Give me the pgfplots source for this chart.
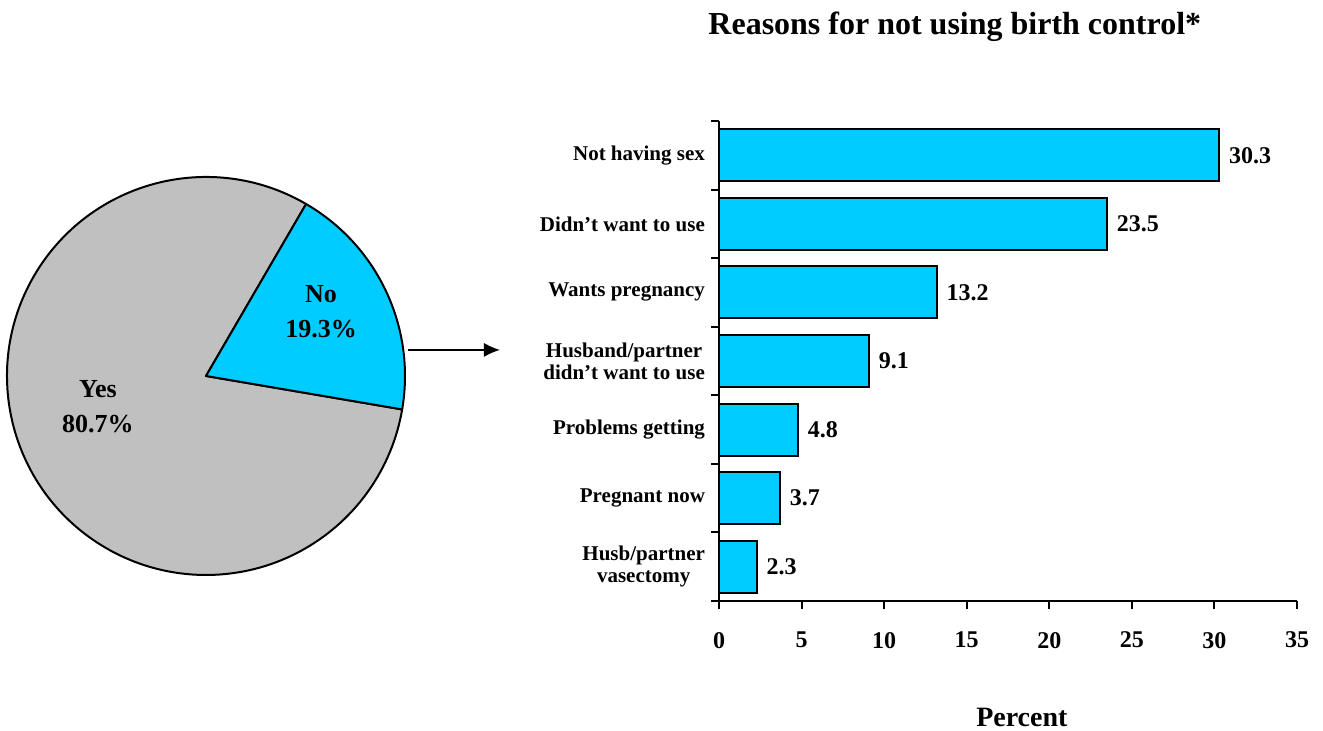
\documentclass[border=0pt]{standalone}
\usepackage{fontspec}
\setmainfont{Liberation Serif}
\usepackage{pgfplots}
\pgfplotsset{compat=1.18}
\usetikzlibrary{arrows.meta}
\definecolor{barcyan}{HTML}{00CCFF}
\definecolor{piegray}{HTML}{C0C0C0}
\begin{document}
\begin{tikzpicture}
\path[use as bounding box] (0,0) rectangle (661.5pt,365.5pt);
% ---------- Pie ----------
\begin{axis}[
  at={(103pt,177.5pt)}, anchor=center,
  scale only axis, width=199pt, height=199pt,
  xmin=-1, xmax=1, ymin=-1, ymax=1,
  hide axis, clip=false]
  \pgfmathsetmacro{\pno}{19.3}
  \pgfmathsetmacro{\pyes}{80.7}
  \pgfmathsetmacro{\sA}{59.8}
  \pgfmathsetmacro{\eNo}{\sA-\pno*3.6}
  \pgfmathsetmacro{\eYes}{\sA+\pyes*3.6}
  \filldraw[fill=piegray, draw=black, line width=1pt, line join=round]
    (axis cs:0,0) -- ++(\sA:99.5pt) arc[start angle=\sA, end angle=\eYes, radius=99.5pt] -- cycle;
  \filldraw[fill=barcyan, draw=black, line width=1pt, line join=round]
    (axis cs:0,0) -- ++(\sA:99.5pt) arc[start angle=\sA, end angle=\eNo, radius=99.5pt] -- cycle;
  \node[align=center, font=\fontsize{13}{17.5}\selectfont\bfseries] at (axis cs:0.578,0.322) {No\\19.3\%};
  \node[align=center, font=\fontsize{13}{17.5}\selectfont\bfseries] at (axis cs:-0.543,-0.156) {Yes\\80.7\%};
  \draw[line width=0.6pt, -{Latex[length=8pt,width=7pt]}] (axis cs:1.015,0.131) -- (axis cs:1.477,0.131);
\end{axis}
% ---------- Bars ----------
\begin{axis}[
  at={(359.5pt,65pt)}, anchor=south west,
  scale only axis, width=289pt, height=240pt,
  xbar, bar width=26pt, bar shift=0pt,
  xmin=0, xmax=35, ymin=-0.5, ymax=6.5,
  axis x line*=bottom, axis y line*=left,
  axis line style={line width=1pt},
  xtick={0,5,...,35},
  ytick={0,...,6},
  yticklabels={{Husb/partner\\vasectomy},{Pregnant now},{Problems getting},{Husband/partner\\didn't want to use},{Wants pregnancy},{Didn't want to use},{Not having sex}},
  minor ytick={-0.5,0.5,...,6.5},
  tick align=outside,
  major tick length=4pt, minor tick length=4pt,
  major y tick style={draw=none},
  tick style={line width=1pt, black},
  /pgf/number format/assume math mode=true,
  xticklabel style={font=\fontsize{12}{14}\selectfont\bfseries, yshift=-8pt},
  yticklabel style={font=\fontsize{10.5}{11}\selectfont\bfseries, align=center, xshift=0.5pt},
  point meta=x,
  nodes near coords={\pgfmathprintnumber[fixed,precision=1,fixed zerofill]{\pgfplotspointmeta}},
  every node near coord/.append style={font=\fontsize{12}{14}\selectfont\bfseries, anchor=west, xshift=1pt},
  title={Reasons for not using birth control*},
  title style={at={(0.408,1.171)}, anchor=center, font=\fontsize{16}{19}\selectfont\bfseries},
  xlabel={Percent},
  xlabel style={at={(axis description cs:0.524,-0.242)}, anchor=center, font=\fontsize{14}{16}\selectfont\bfseries},
]
\addplot[fill=barcyan, draw=black, line width=1pt] coordinates {
  (2.3,0) (3.7,1) (4.8,2) (9.1,3) (13.2,4) (23.5,5) (30.3,6)
};
\end{axis}
\end{tikzpicture}
\end{document}
